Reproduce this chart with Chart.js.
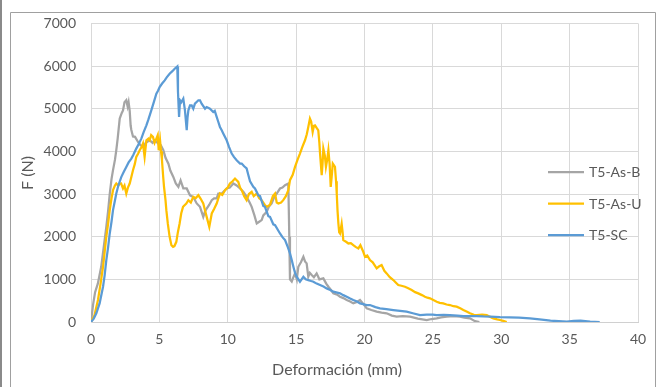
<!DOCTYPE html>
<html><head><meta charset="utf-8">
<script src="https://cdn.jsdelivr.net/npm/chart.js@4"></script>
<style>html,body{margin:0;padding:0;background:#fff;}canvas{display:block}</style>
</head><body>
<canvas id="c" width="659" height="387"></canvas>
<script>
// ---- data ----
const seriesLabels = ['T5-As-B', 'T5-As-U', 'T5-SC'];
const seriesColors = ['#A5A5A5', '#FFC000', '#5B9BD5'];
const xTitle = 'Deformación (mm)';
const yTitle = 'F (N)';
const xTickValues = [0, 5, 10, 15, 20, 25, 30, 35, 40];
const yTickValues = [0, 1000, 2000, 3000, 4000, 5000, 6000, 7000];

const asBX = [0,0.15,0.3,0.5,0.75,0.95,1.12,1.25,1.37,1.5,1.61,1.75,1.85,1.95,2.1,2.25,2.34,2.45,2.58,2.68,2.75,2.83,2.9,2.95,3.07,3.22,3.44,3.6,3.82,4.0,4.29,4.5,4.66,4.92,5.1,5.29,5.45,5.66,5.8,6.02,6.2,6.39,6.55,6.75,7.0,7.24,7.48,7.73,7.97,8.09,8.21,8.35,8.46,8.65,8.83,9.0,9.19,9.31,9.56,9.92,10.15,10.41,10.65,10.9,11.15,11.38,11.6,11.75,11.95,12.12,12.3,12.48,12.6,12.85,13.0,13.21,13.4,13.58,13.82,14.0,14.19,14.43,14.47,14.5,14.55,14.68,14.8,14.92,15.05,15.16,15.35,15.53,15.65,15.77,15.89,16.0,16.14,16.3,16.5,16.7,16.99,17.2,17.36,17.55,17.72,18.0,18.21,18.45,18.7,18.95,19.18,19.45,19.67,19.9,20.16,20.5,20.89,21.25,21.62,22.0,22.35,22.8,23.33,23.9,24.55,24.9,25.28,25.6,26.01,26.5,26.98,27.3,27.71,28.08,28.4];
const asBY = [0,400,700,900,1300,1800,2230,2600,3000,3350,3560,3800,4030,4300,4770,4900,4960,5150,5200,5050,5150,4950,4600,4500,4350,4340,4220,4150,4100,4200,4260,4200,4260,4180,4150,4030,3850,3710,3550,3400,3250,3170,3320,3130,3130,2970,2930,2780,2700,2580,2465,2600,2660,2750,2856,2900,2900,3012,3012,3129,3150,3246,3200,3129,3050,2933,2800,2700,2500,2309,2350,2388,2500,2582,2700,2778,2930,3012,3129,3150,3207,3246,3246,2000,1000,950,1050,1140,1000,1295,1400,1529,1420,1374,1061,1150,1100,1050,1140,1000,1022,900,827,750,671,640,593,560,515,480,437,470,515,430,320,280,242,220,203,150,125,140,125,80,47,70,86,110,125,140,125,100,86,20,0];

const asUX = [0,0.25,0.51,0.7,0.88,1.0,1.12,1.25,1.37,1.5,1.61,1.75,1.85,2.0,2.1,2.2,2.34,2.45,2.58,2.7,2.83,2.95,3.07,3.2,3.31,3.45,3.56,3.7,3.8,3.92,4.05,4.2,4.29,4.4,4.53,4.65,4.78,4.88,4.95,5.05,5.12,5.19,5.28,5.34,5.45,5.51,5.62,5.75,5.88,6.0,6.1,6.24,6.35,6.48,6.6,6.73,6.97,7.12,7.3,7.48,7.65,7.85,8.0,8.21,8.35,8.46,8.65,8.83,9.0,9.19,9.43,9.6,9.8,10.0,10.16,10.35,10.53,10.77,10.9,11.02,11.2,11.38,11.55,11.75,11.9,12.12,12.3,12.48,12.7,12.85,13.09,13.3,13.46,13.58,13.7,13.9,14.06,14.25,14.43,14.55,14.75,14.92,15.1,15.28,15.45,15.65,15.78,15.89,16.01,16.1,16.21,16.3,16.38,16.5,16.62,16.7,16.75,16.87,16.93,16.99,17.1,17.18,17.27,17.36,17.45,17.53,17.6,17.68,17.84,17.92,17.97,18.03,18.09,18.15,18.21,18.33,18.4,18.45,18.65,18.82,19.0,19.18,19.35,19.55,19.7,19.91,20.04,20.2,20.4,20.6,20.89,21.05,21.25,21.45,21.62,21.85,22.11,22.3,22.47,22.7,22.96,23.2,23.45,23.7,23.93,24.2,24.42,24.6,24.79,25.0,25.28,25.5,25.76,26.0,26.25,26.5,26.74,27.0,27.23,27.5,27.71,28.0,28.2,28.6,28.94,29.2,29.42,29.7,29.9,30.15,30.4];
const asUY = [0,150,515,900,1295,1650,2000,2300,2622,2900,3090,3200,3246,3200,3246,3250,3129,3200,3012,3150,3246,3400,3558,3700,3870,3950,4026,4100,4182,3870,4260,4300,4260,4380,4338,4200,4299,4380,4026,4260,4000,3792,3400,3168,2850,2622,2300,1997,1800,1763,1780,1880,2100,2309,2550,2700,2778,2856,2800,2933,2900,2973,2900,2778,2600,2465,2231,2544,2650,2778,3012,2980,3090,3150,3246,3300,3363,3285,3150,3090,2950,2856,3000,3051,2950,3012,2900,2856,2750,2700,2750,2950,3012,2800,2778,2800,2856,2950,3090,3324,3450,3636,3800,3948,4100,4260,4400,4572,4768,4700,4455,4600,4611,4550,4494,4200,3948,3441,3700,4065,3900,3636,3800,4026,3700,3168,3400,3714,3636,3300,3012,2600,2309,2100,2075,2300,2100,1919,1880,1841,1850,1802,1760,1724,1800,1646,1529,1560,1451,1400,1257,1300,1334,1200,1140,1050,983,920,866,850,827,790,749,700,671,630,593,570,554,520,476,450,437,410,398,370,359,320,281,240,203,170,164,170,164,120,86,60,47,25,0];

const scX = [0,0.2,0.39,0.63,0.88,1.0,1.12,1.25,1.37,1.5,1.61,1.75,1.85,2.0,2.22,2.4,2.58,2.75,2.95,3.1,3.31,3.5,3.68,3.85,4.05,4.2,4.41,4.6,4.78,4.9,5.02,5.2,5.39,5.55,5.75,5.95,6.12,6.31,6.36,6.44,6.51,6.6,6.75,6.87,7.0,7.06,7.12,7.24,7.36,7.48,7.6,7.85,7.97,8.09,8.34,8.46,8.7,8.94,9.05,9.19,9.3,9.43,9.55,9.68,9.92,10.1,10.29,10.45,10.65,10.9,11.02,11.2,11.38,11.5,11.63,11.87,11.99,12.24,12.36,12.6,12.72,12.97,13.09,13.33,13.46,13.82,14.0,14.19,14.4,14.55,14.68,14.8,14.92,15.04,15.28,15.4,15.53,15.7,15.89,16.1,16.26,16.5,16.75,17.0,17.23,17.5,17.72,18.0,18.21,18.45,18.7,18.95,19.18,19.45,19.67,19.9,20.16,20.4,20.8,21.13,21.6,22.11,22.6,23.08,23.6,24.06,24.55,25.0,25.28,25.8,26.25,26.8,27.23,27.7,28.2,28.7,29.2,29.9,30.6,31.3,32.1,32.8,33.6,34.2,34.8,35.3,35.8,36.5,37.2];
const scY = [0,80,203,437,827,1100,1451,1750,2075,2350,2622,2850,3012,3200,3402,3520,3636,3740,3831,3920,4065,4180,4299,4450,4611,4750,4963,5160,5353,5420,5509,5590,5665,5740,5821,5880,5938,5990,5400,4807,5197,5150,5236,4963,4495,4800,4963,5080,5080,5000,5119,5197,5197,5119,5002,5040,5002,4924,4950,4807,4700,4572,4500,4416,4260,4100,3948,3870,3792,3714,3714,3650,3600,3450,3300,3168,3129,2970,2950,2720,2700,2480,2465,2290,2271,2075,1990,1919,1750,1608,1450,1295,1150,1061,944,1000,1061,1000,983,960,944,900,866,830,788,750,710,690,671,630,593,550,515,480,437,420,398,398,350,320,300,281,260,242,200,164,172,170,164,165,164,150,140,140,140,130,125,115,110,100,86,60,30,20,7,25,30,10,0];

// ---- build ----
function pts(xs, ys) { return xs.map((x, i) => ({ x: x, y: ys[i] })); }
const seriesData = [pts(asBX, asBY), pts(asUX, asUY), pts(scX, scY)];

const FONT = 'Lato, "Open Sans", sans-serif';
const TXT = '#595959';
const AREA = { left: 91, right: 638, top: 23, bottom: 322 };
const W = 659, H = 387;

const decor = {
  id: 'decor',
  afterDraw(chart) {
    const ctx = chart.ctx;
    ctx.save();
    // frame
    ctx.strokeStyle = '#a0a0a0';
    ctx.lineWidth = 1;
    ctx.beginPath();
    ctx.moveTo(10.5, H); ctx.lineTo(10.5, 12.5); ctx.lineTo(655.5, 12.5); ctx.lineTo(655.5, H);
    ctx.stroke();
    ctx.strokeStyle = '#8a8a8a';
    ctx.lineWidth = 2;
    ctx.beginPath(); ctx.moveTo(1, 0); ctx.lineTo(1, H); ctx.stroke();
    // legend
    const ly = [172, 203.5, 235];
    ctx.font = '14px ' + FONT;
    ctx.textBaseline = 'middle';
    ctx.textAlign = 'left';
    chart.data.datasets.forEach((ds, i) => {
      ctx.strokeStyle = ds.borderColor;
      ctx.lineWidth = 2.25;
      ctx.beginPath(); ctx.moveTo(548, ly[i]); ctx.lineTo(584, ly[i]); ctx.stroke();
      ctx.fillStyle = TXT;
      ctx.fillText(ds.label, 589, ly[i] + 0.5);
    });
    // axis titles
    ctx.font = '16px ' + FONT;
    ctx.fillStyle = TXT;
    ctx.textAlign = 'center';
    ctx.fillText(xTitle, 337, 370);
    ctx.translate(28, 173);
    ctx.rotate(-Math.PI / 2);
    ctx.fillText(yTitle, 0, 0);
    ctx.restore();
  }
};

new Chart(document.getElementById('c'), {
  type: 'scatter',
  data: {
    datasets: seriesLabels.map((lab, i) => ({
      label: lab,
      data: seriesData[i],
      showLine: true,
      borderColor: seriesColors[i],
      backgroundColor: seriesColors[i],
      borderWidth: 2.25,
      pointRadius: 0,
      tension: 0,
      order: 2 - i
    }))
  },
  options: {
    responsive: false,
    animation: false,
    devicePixelRatio: 1,
    layout: { padding: { left: 0, right: W - AREA.right, top: AREA.top, bottom: 0 } },
    plugins: { legend: { display: false }, tooltip: { enabled: false } },
    scales: {
      x: {
        type: 'linear', min: 0, max: 40,
        afterBuildTicks(s) { s.ticks = xTickValues.map(v => ({ value: v })); },
        afterFit(s) { s.height = H - AREA.bottom; },
        ticks: { color: TXT, font: { family: FONT, size: 14 }, padding: 9, maxRotation: 0 },
        grid: { color: '#d9d9d9', drawTicks: false },
        border: { color: '#d0d0d0' }
      },
      y: {
        type: 'linear', min: 0, max: 7000,
        afterBuildTicks(s) { s.ticks = yTickValues.map(v => ({ value: v })); },
        afterFit(s) { s.width = AREA.left; },
        ticks: { color: TXT, font: { family: FONT, size: 14 }, padding: 15, callback: v => String(v) },
        grid: { color: '#d9d9d9', drawTicks: false },
        border: { color: '#d9d9d9' }
      }
    }
  },
  plugins: [decor]
});
</script>
</body></html>
